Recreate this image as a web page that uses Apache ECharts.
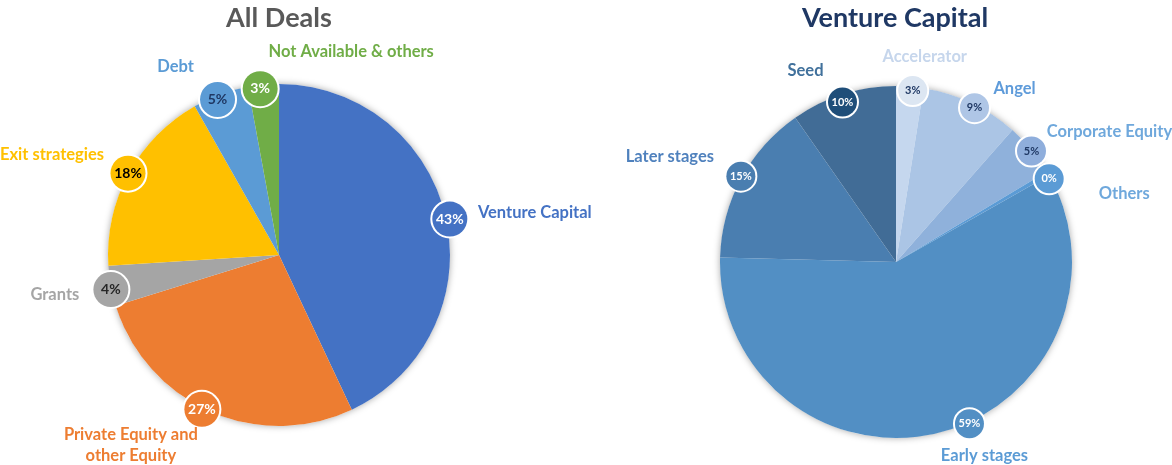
<!DOCTYPE html>
<html><head><meta charset="utf-8">
<script src="https://cdn.jsdelivr.net/npm/echarts@6/dist/echarts.min.js"></script>
<style>html,body{margin:0;padding:0;background:#fff}#c{width:1172px;height:465px}</style>
</head><body><div id="c"></div>
<script>
// ---------- DATA ----------
const dealTitle = 'All Deals';
const dealCategories = ['Venture Capital', 'Private Equity and\nother Equity', 'Grants', 'Exit strategies', 'Debt', 'Not Available & others'];
const dealValues = [43, 27.2, 3.8, 17.8, 5.3, 2.9];

const vcTitle = 'Venture Capital';
const vcCategories = ['Accelerator', 'Angel', 'Corporate Equity', 'Others', 'Early stages', 'Later stages', 'Seed'];
const vcValues = [2.5, 9.0, 4.9, 0.4, 58.6, 14.9, 9.7];

// ---------- STYLES ----------
const FONT = 'Lato, "Open Sans", sans-serif';
const dealStyle = {
  center: [279, 255], r: 171,
  slice:  ['#4472C4', '#ED7D31', '#A5A5A5', '#FFC000', '#5B9BD5', '#70AD47'],
  bubble: ['#4472C4', '#ED7D31', '#A5A5A5', '#FFC000', '#5B9BD5', '#70AD47'],
  bubbleText: ['#ffffff', '#ffffff', '#262626', '#000000', '#1F3864', '#ffffff'],
  name:   ['#4472C4', '#ED7D31', '#A5A5A5', '#FFC000', '#5B9BD5', '#70AD47'],
  bubbleSize: 35, bubbleFont: 14,
  bubbleOff: [[1, 2], [-7, -5], [3, 3], [2, 1], [-2, 8], [-3, 7]],
  nameOff: [[86, -4], [-78, 31], [-53, 8], [-74, -17], [-44, -25], [88, -30]]
};
const vcStyle = {
  center: [896, 262], r: 176,
  slice:  ['#C5D7EE', '#ABC5E5', '#8FB1DB', '#5B9BD5', '#528FC4', '#4A7EB0', '#416C96'],
  bubble: ['#DCE6F2', '#AFC6E6', '#8FAEDC', '#5B9BD5', '#528FC4', '#4A7EB0', '#1F4E79'],
  bubbleText: ['#1F3864', '#1F3864', '#1F3864', '#ffffff', '#ffffff', '#ffffff', '#ffffff'],
  name:   ['#C6D6EC', '#5E9BDA', '#6FA8DC', '#6FA8DC', '#5B9BD5', '#4F81BD', '#41719C'],
  bubbleSize: 29, bubbleFont: 11,
  bubbleR: 172,
  bubbleOff: [[3, 3], [4, 4], [1, 1], [2, 5], [31, -8], [-1, -3], [-1, 7]],
  nameOff: [[15, -31], [44, -15], [79, -18], [77, 20], [46, 24], [-72, -22], [-38, -24]]
};

function pieSeries(cats, vals, st) {
  const total = vals.reduce((a, b) => a + b, 0);
  const br = st.bubbleR || st.r;
  const base = {
    type: 'pie', center: st.center, clockwise: true, startAngle: 90,
    avoidLabelOverlap: false, silent: true, animation: false,
    emphasis: { disabled: true }, labelLine: { show: false }
  };
  return [
    Object.assign({}, base, {
      radius: st.r, z: 1,
      data: [{ value: total, name: 'bg' }],
      itemStyle: { color: '#ffffff', shadowBlur: 7, shadowColor: 'rgba(0,0,0,0.35)' },
      label: { show: false }
    }),
    Object.assign({}, base, {
      radius: st.r, z: 2,
      data: cats.map((c, i) => ({ name: c, value: vals[i], itemStyle: { color: st.slice[i] } })),
      label: { show: false }
    }),
    Object.assign({}, base, {
      radius: [br - 1, br + 1], z: 3,
      data: cats.map((c, i) => ({
        name: c, value: vals[i],
        itemStyle: { color: 'rgba(0,0,0,0)' },
        label: { backgroundColor: st.bubble[i], color: st.bubbleText[i] }
      })),
      label: {
        show: true, position: 'inside',
        formatter: p => Math.round(p.value) + '%',
        fontFamily: FONT, fontWeight: 'bold', fontSize: st.bubbleFont,
        width: st.bubbleSize, height: st.bubbleSize, lineHeight: st.bubbleSize,
        align: 'center', verticalAlign: 'middle',
        borderColor: '#ffffff', borderWidth: 2, borderRadius: st.bubbleSize,
        padding: 0
      },
      labelLayout: p => ({ dx: st.bubbleOff[p.dataIndex][0], dy: st.bubbleOff[p.dataIndex][1] })
    }),
    Object.assign({}, base, {
      radius: [br - 1, br + 1], z: 4,
      data: cats.map((c, i) => ({
        name: c, value: vals[i],
        itemStyle: { color: 'rgba(0,0,0,0)' },
        label: { color: st.name[i] }
      })),
      label: {
        show: true, position: 'inside', formatter: '{b}',
        fontFamily: FONT, fontWeight: 'bold', fontSize: 16.5, lineHeight: 21,
        align: 'center'
      },
      labelLayout: p => ({ dx: st.nameOff[p.dataIndex][0], dy: st.nameOff[p.dataIndex][1] })
    })
  ];
}

const chart = echarts.init(document.getElementById('c'), null, { renderer: 'canvas' });
chart.setOption({
  backgroundColor: '#ffffff',
  animation: false,
  title: [
    { text: dealTitle, left: 274, top: 0, textAlign: 'center',
      textStyle: { fontFamily: FONT, fontWeight: 'bold', fontSize: 27, color: '#595959' } },
    { text: vcTitle, left: 890, top: 0, textAlign: 'center',
      textStyle: { fontFamily: FONT, fontWeight: 'bold', fontSize: 27, color: '#1F3864' } }
  ],
  series: [].concat(pieSeries(dealCategories, dealValues, dealStyle), pieSeries(vcCategories, vcValues, vcStyle))
});
</script>
</body></html>
